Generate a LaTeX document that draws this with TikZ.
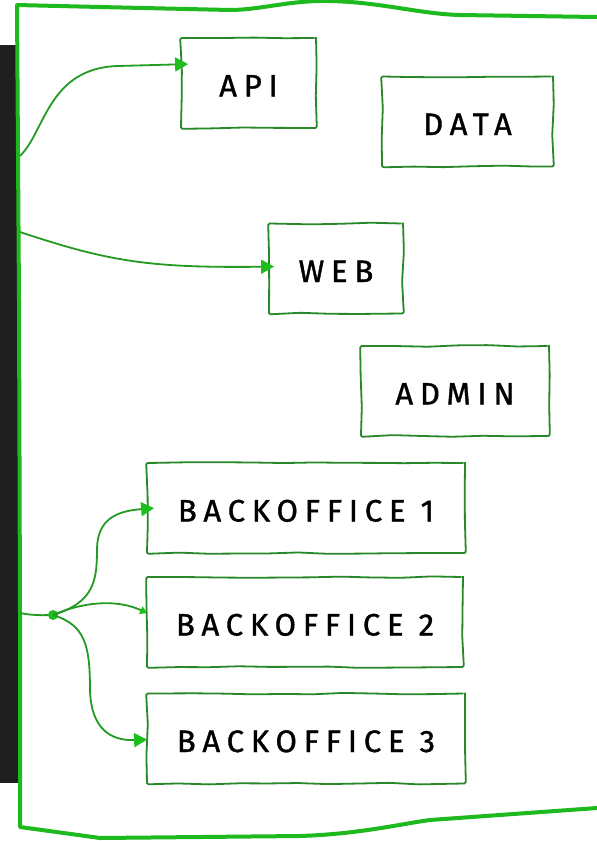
\documentclass[tikz,border=0pt]{standalone}
\usepackage{fontspec}
\newfontfamily\handfont[LetterSpace=22,FakeBold=1.2]{Fira Sans}
\usetikzlibrary{arrows.meta,decorations.pathmorphing,calc}
\definecolor{framegreen}{RGB}{30,185,30}
\definecolor{boxgreen}{RGB}{40,135,40}
\definecolor{wiregreen}{RGB}{35,155,35}
\definecolor{tipgreen}{RGB}{30,190,30}
\definecolor{sidebar}{RGB}{31,31,31}
\tikzset{
  sketchbox/.style={draw=boxgreen, line width=1.8pt, rounded corners=1.5pt,
    decorate, decoration={random steps, segment length=30pt, amplitude=0.9pt},
    inner sep=0pt, minimum height=90pt, text height=27pt, text depth=0pt,
    font=\handfont\fontsize{31}{31}\selectfont, text=black},
  wire/.style={draw=wiregreen, line width=1.8pt,
    -{Triangle[length=13pt,width=14pt,fill=tipgreen,color=tipgreen]}},
  frame/.style={draw=framegreen, line width=4pt, line join=round, line cap=round},
}
\begin{document}
\pgfmathsetseed{7}
\begin{tikzpicture}[x=1pt,y=-1pt]
\useasboundingbox (0,0) rectangle (597,841);
\fill[white] (0,0) rectangle (597,841);

% dark side strip
\fill[sidebar] (0,45) rectangle (18,783);

% outer sketched frame
\draw[frame] (597,17) -- (460,15) .. controls (420,14) and (380,2) .. (330,1)
  .. controls (290,0) and (260,10) .. (230,10) -- (100,7) -- (17,5)
  -- (19,300) -- (20,613) -- (20,827) -- (100,838) -- (300,836)
  .. controls (360,834) and (400,824) .. (430,820) -- (597,808);

% service boxes
\node[sketchbox, minimum width=135pt] (api)   at (248.5,83)  {API};
\node[sketchbox, minimum width=171pt] (data)  at (467.5,121.5) {DATA};
\node[sketchbox, minimum width=134pt] (web)   at (336,268.5) {WEB};
\node[sketchbox, minimum width=188pt] (admin) at (455,391)   {ADMIN};
\node[sketchbox, minimum width=318pt] (bo1)   at (306,508)   {BACKOFFICE 1\hspace{10pt}};
\node[sketchbox, minimum width=316pt] (bo2)   at (305,622)   {BACKOFFICE 2\hspace{10pt}};
\node[sketchbox, minimum width=318pt] (bo3)   at (306,738.5) {BACKOFFICE 3\hspace{10pt}};

% entry points on the frame edge
\coordinate (eapi) at (20,156);
\coordinate (eweb) at (20,232);
\coordinate (ebo)  at (20,613);
\coordinate (hub)  at (53,615);

% connectors
\draw[wire] (eapi) .. controls (45,132) and (48,68) .. (118,66)
  -- ($(api.north west)+(8,27)$);
\draw[wire] (eweb) .. controls (110,262) and (150,268) .. ($(web.north west)+(6,44)$);

\draw[draw=wiregreen, line width=1.8pt] (ebo) .. controls (35,616) and (45,615) .. (hub);
\fill[tipgreen] (hub) circle (5pt);
\draw[wire] (hub) .. controls (95,602) and (97,580) .. (97,548)
  .. controls (98,518) and (118,511) .. ($(bo1.north west)+(8,46)$);
\draw[draw=wiregreen, line width=1.8pt,
  -{Triangle[length=7pt,width=8pt,fill=tipgreen,color=tipgreen]}]
  (hub) .. controls (80,603) and (115,598) .. ($(bo2.north west)+(1,37)$);
\draw[wire] (hub) .. controls (85,625) and (90,645) .. (90,690)
  .. controls (91,728) and (110,741) .. ($(bo3.north west)+(1,47)$);
\end{tikzpicture}
\end{document}
